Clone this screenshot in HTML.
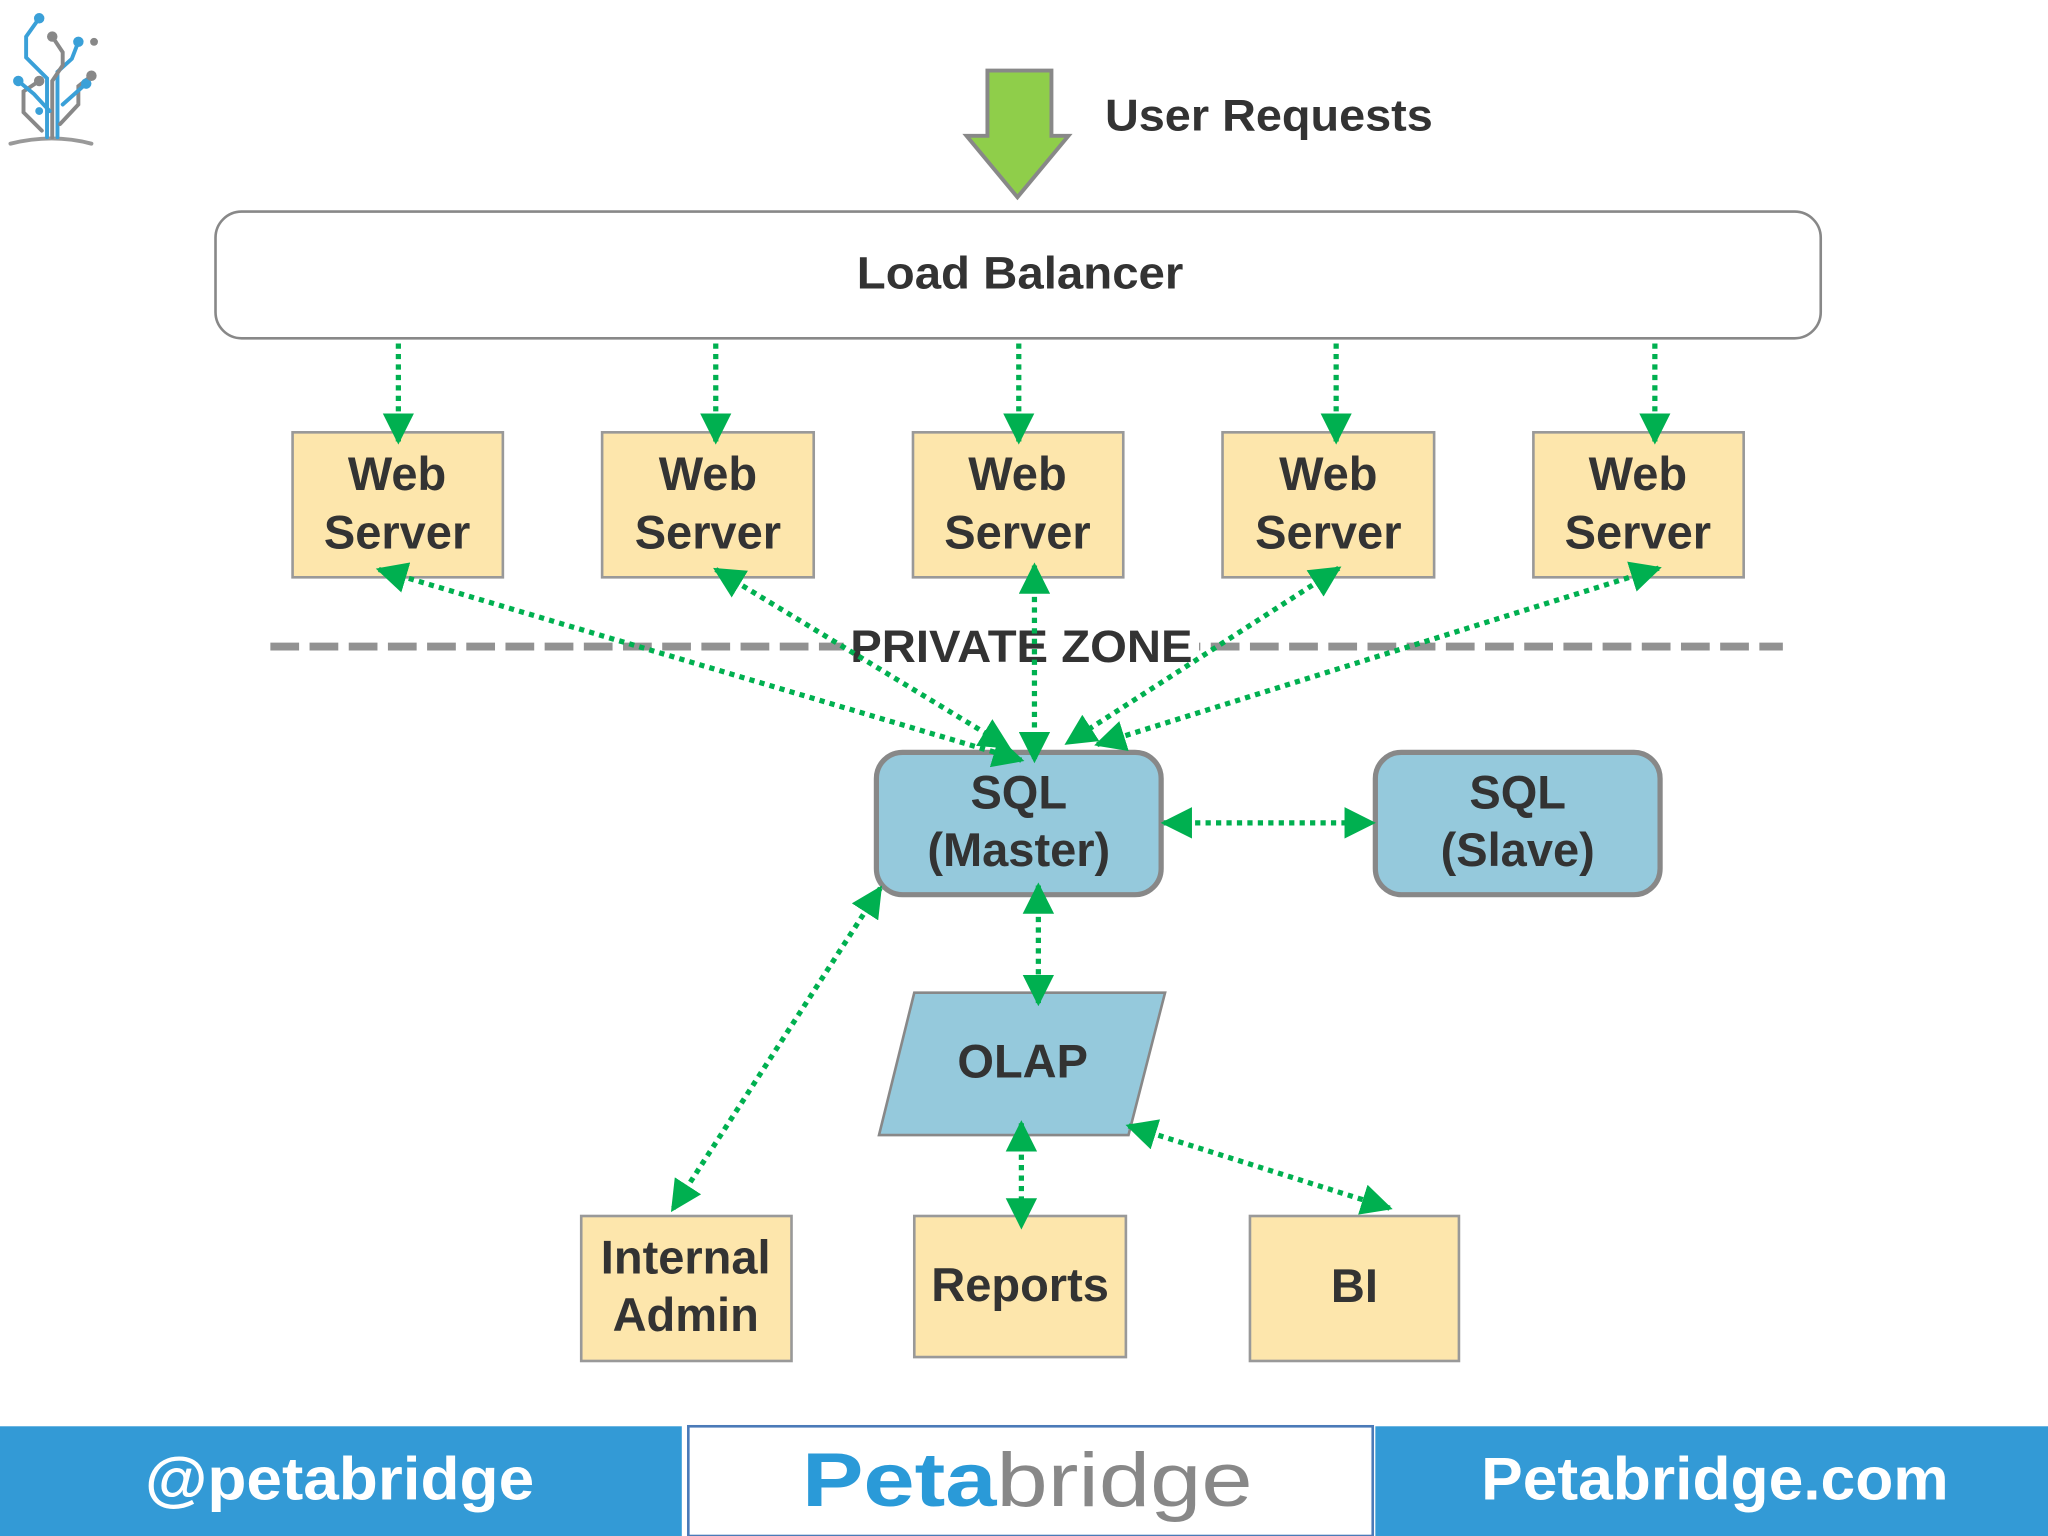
<!DOCTYPE html>
<html><head><meta charset="utf-8"><style>
html,body{margin:0;padding:0;background:#fff;}
svg{display:block;}
text{font-family:"Liberation Sans",Arial,sans-serif;font-weight:bold;fill:#333;}
</style></head><body>
<svg width="2048" height="1536" viewBox="0 0 1568 1176" xmlns="http://www.w3.org/2000/svg">
<defs>
<marker id="a" viewBox="0 0 10 10" refX="9" refY="5" markerWidth="6" markerHeight="6" markerUnits="strokeWidth" orient="auto-start-reverse">
<path d="M0,0 L10,5 L0,10 z" fill="#00b050"/></marker>
</defs>
<rect width="1568" height="1176" fill="#fff"/>
<g stroke-width="3" fill="none" stroke-linecap="round">
<path d="M8 110 Q40 102 70 110" stroke="#999"/>
<path d="M36 105 V60 L20 44 V28 L30 14" stroke="#3aa0d8"/>
<path d="M44 105 V55 L55 45 L60 32" stroke="#3aa0d8"/>
<path d="M40 105 V62 L48 50 V40 L40 28" stroke="#888"/>
<path d="M32 100 L18 86 V70 L30 62" stroke="#888"/>
<path d="M46 95 L60 80 V66 L70 58" stroke="#888"/>
<path d="M38 85 L26 72 L14 62" stroke="#3aa0d8"/>
<path d="M48 80 L66 64" stroke="#3aa0d8"/>
</g>
<g fill="#3aa0d8"><circle cx="30" cy="14" r="4"/><circle cx="60" cy="32" r="4"/><circle cx="14" cy="62" r="4"/><circle cx="66" cy="64" r="4"/><circle cx="30" cy="85" r="3"/></g>
<g fill="#888"><circle cx="40" cy="28" r="4"/><circle cx="70" cy="58" r="4"/><circle cx="30" cy="62" r="4"/><circle cx="72" cy="32" r="3"/></g>
<path d="M756 54 H805 V104 H818 L779 151 L740 104 H756 Z" fill="#8fce4a" stroke="#888" stroke-width="3"/>
<text x="846" y="100" font-size="34" textLength="251" lengthAdjust="spacingAndGlyphs">User Requests</text>
<rect x="165" y="162" width="1229" height="97" rx="20" fill="#fff" stroke="#888" stroke-width="2"/>
<text x="656" y="221" font-size="35" textLength="250" lengthAdjust="spacingAndGlyphs">Load Balancer</text>
<g fill="#fde6ac" stroke="#999" stroke-width="2">
<rect x="224" y="331" width="161" height="111"/>
<rect x="461" y="331" width="162" height="111"/>
<rect x="699" y="331" width="161" height="111"/>
<rect x="936" y="331" width="162" height="111"/>
<rect x="1174" y="331" width="161" height="111"/>
<rect x="445" y="931" width="161" height="111"/>
<rect x="700" y="931" width="162" height="108"/>
<rect x="957" y="931" width="160" height="111"/>
</g>
<g font-size="36" text-anchor="middle">
<text x="304" y="375">Web</text><text x="304" y="420">Server</text>
<text x="542" y="375">Web</text><text x="542" y="420">Server</text>
<text x="779" y="375">Web</text><text x="779" y="420">Server</text>
<text x="1017" y="375">Web</text><text x="1017" y="420">Server</text>
<text x="1254" y="375">Web</text><text x="1254" y="420">Server</text>
<text x="525" y="975">Internal</text><text x="525" y="1019">Admin</text>
<text x="781" y="996">Reports</text>
<text x="1037" y="997">BI</text>
</g>
<line x1="207" y1="495" x2="1365" y2="495" stroke="#929292" stroke-width="6" stroke-dasharray="22 8"/>
<rect x="646" y="476" width="272" height="40" fill="#fff"/>
<text x="651" y="507" font-size="35" textLength="262" lengthAdjust="spacingAndGlyphs">PRIVATE ZONE</text>
<rect x="671" y="576" width="218" height="109" rx="20" fill="#95c9dc" stroke="#888" stroke-width="4"/>
<rect x="1053" y="576" width="218" height="109" rx="20" fill="#95c9dc" stroke="#888" stroke-width="4"/>
<g font-size="36" text-anchor="middle">
<text x="780" y="619">SQL</text><text x="780" y="663">(Master)</text>
<text x="1162" y="619">SQL</text><text x="1162" y="663">(Slave)</text>
</g>
<polygon points="700,760 892,760 864,869 673,869" fill="#95c9dc" stroke="#888" stroke-width="2"/>
<text x="783" y="825" font-size="36" text-anchor="middle">OLAP</text>
<g stroke="#00b050" stroke-width="4" stroke-dasharray="4 4" fill="none">
<line x1="305" y1="263" x2="305" y2="338" marker-end="url(#a)"/>
<line x1="548" y1="263" x2="548" y2="338" marker-end="url(#a)"/>
<line x1="780" y1="263" x2="780" y2="338" marker-end="url(#a)"/>
<line x1="1023" y1="263" x2="1023" y2="338" marker-end="url(#a)"/>
<line x1="1267" y1="263" x2="1267" y2="338" marker-end="url(#a)"/>
<line x1="290" y1="436" x2="782" y2="582" marker-start="url(#a)" marker-end="url(#a)"/>
<line x1="548" y1="436" x2="772" y2="572" marker-start="url(#a)" marker-end="url(#a)"/>
<line x1="792" y1="433" x2="792" y2="582" marker-start="url(#a)" marker-end="url(#a)"/>
<line x1="1025" y1="435" x2="817" y2="569" marker-start="url(#a)" marker-end="url(#a)"/>
<line x1="1270" y1="435" x2="840" y2="570" marker-start="url(#a)" marker-end="url(#a)"/>
<line x1="891" y1="630" x2="1051" y2="630" marker-start="url(#a)" marker-end="url(#a)"/>
<line x1="795" y1="678" x2="795" y2="768" marker-start="url(#a)" marker-end="url(#a)"/>
<line x1="674" y1="680" x2="515" y2="926" marker-start="url(#a)" marker-end="url(#a)"/>
<line x1="782" y1="860" x2="782" y2="939" marker-start="url(#a)" marker-end="url(#a)"/>
<line x1="864" y1="862" x2="1064" y2="925" marker-start="url(#a)" marker-end="url(#a)"/>
</g>
<rect x="0" y="1092" width="522" height="84" fill="#339ad6"/>
<rect x="527" y="1092" width="524" height="84" fill="#fff" stroke="#4a7ab8" stroke-width="2"/>
<rect x="1053" y="1092" width="515" height="84" fill="#339ad6"/>
<text x="260" y="1148" font-size="46" text-anchor="middle" style="fill:#fff" textLength="298" lengthAdjust="spacingAndGlyphs">@petabridge</text>
<text x="614" y="1153" font-size="58" textLength="345" lengthAdjust="spacingAndGlyphs"><tspan style="fill:#2a9ad8;font-weight:bold">Peta</tspan><tspan style="fill:#888;font-weight:normal">bridge</tspan></text>
<text x="1313" y="1148" font-size="46" text-anchor="middle" style="fill:#fff" textLength="358" lengthAdjust="spacingAndGlyphs">Petabridge.com</text>
</svg>
</body></html>
